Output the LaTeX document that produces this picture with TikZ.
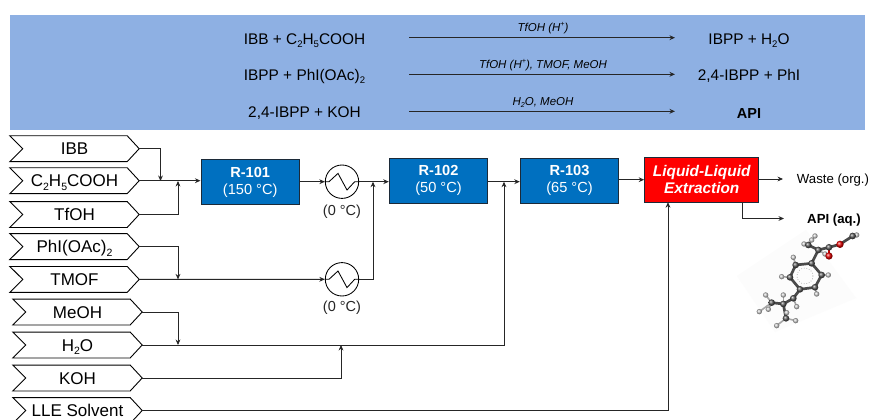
\documentclass[tikz,border=0pt]{standalone}
\usepackage{fontspec}
\setmainfont{Liberation Sans}
\usetikzlibrary{arrows.meta}
\definecolor{banner}{HTML}{8EB0E3}
\definecolor{rblue}{HTML}{0070C0}
\definecolor{edgeline}{HTML}{1C2A38}
\definecolor{atomC}{HTML}{4A4A4A}
\newcommand{\lo}[1]{\raisebox{-0.2em}{\scalebox{0.62}{#1}}}
\newcommand{\hi}[1]{\raisebox{0.42em}{\scalebox{0.62}{#1}}}
\newcommand{\fs}[1]{\fontsize{#1}{#1}\selectfont}
\tikzset{
  x=1pt,y=-1pt,
  feedbox/.style={minimum width=129pt,minimum height=25.5pt,inner sep=0pt,text height=12.2pt,text depth=0pt,font=\fs{17}},
  feededge/.style={draw=black,line width=0.9pt,line join=miter},
  flow/.style={draw=black!85,line width=1pt},
  tip/.style={-{Stealth[length=5.5pt,width=4.8pt]}},
  reactor/.style={draw=edgeline,line width=0.9pt,fill=rblue,text=white,minimum width=98.5pt,minimum height=45pt,inner sep=0pt,align=center,font=\fs{14.6}},
  lle/.style={draw=edgeline,line width=1pt,fill=red,text=white,minimum width=114pt,minimum height=45pt,inner sep=0pt,align=center,font=\fs{15.4}\bfseries\itshape},
  hx/.style={circle,draw=black,line width=0.85pt,minimum size=33.4pt,inner sep=0pt},
  eqn/.style={inner sep=0pt,text height=11pt,text depth=0pt,font=\fs{15.4}},
  cond/.style={inner sep=0pt,text height=8.3pt,text depth=0pt,font=\fs{11.5}\itshape},
  temp/.style={inner sep=0pt,font=\fs{14.5},text=black!85},
  outlabel/.style={inner sep=0pt,text height=9.5pt,text depth=0pt,font=\fs{13.2}},
  bond/.style={draw=atomC,line width=2.7pt,line cap=round},
  hbond/.style={draw=gray!70,line width=1.6pt,line cap=round},
}
% name, center x, center y, text
\newcommand{\feed}[4]{%
  \node[feedbox] (#1) at (#2,#3) {#4};
  \draw[feededge] (#1.north west) -- ([xshift=-12pt]#1.north east) -- (#1.east)
    -- ([xshift=-12pt]#1.south east) -- (#1.south west) -- ([xshift=13pt]#1.west) -- cycle;
}
\newcommand{\zig}[1]{%
  \draw[line width=0.85pt] ([xshift=-16.7pt]#1.center) -- ++(3.7,0) -- ++(9,-8.3) -- ++(9,16.6) -- ++(7.7,-8.3) -- ++(4,0);
}
\newcommand{\atomH}[2]{\shade[ball color=gray!40] (#1,#2) circle (8);}
\newcommand{\atomK}[2]{\shade[ball color=black!65] (#1,#2) circle (10);}
\newcommand{\atomO}[2]{\shade[ball color=red!90!black] (#1,#2) circle (11);}
\begin{document}
\begin{tikzpicture}
\useasboundingbox (0,0) rectangle (871,420);
\clip (0,0) rectangle (871,420);
\fill[white] (0,0) rectangle (871,420);

% banner
\fill[banner] (10,15) rectangle (865,130);
\node[eqn] (l1) at (304.5,39) {IBB + C\lo{2}H\lo{5}COOH};
\node[eqn] (l2) at (304.5,75) {IBPP + PhI(OAc)\lo{2}};
\node[eqn] (l3) at (304.5,112) {2,4-IBPP + KOH};
\node[eqn] (r1) at (749,39) {IBPP + H\lo{2}O};
\node[eqn] (r2) at (749,75.5) {2,4-IBPP + PhI};
\node[eqn,font=\fs{14.5}\bfseries] (r3) at (749,113) {API};
\coordinate (a1s) at (409,37.7); \coordinate (a1e) at (675,37.7);
\coordinate (a2s) at (409,74.3); \coordinate (a2e) at (675,74.3);
\coordinate (a3s) at (409,111.3); \coordinate (a3e) at (675,111.3);
\draw[flow,tip] (a1s) -- (a1e);
\draw[flow,tip] (a2s) -- (a2e);
\draw[flow,tip] (a3s) -- (a3e);
\node[cond] (c1) at (543,27) {TfOH (H\hi{+})};
\node[cond] (c2) at (543,64) {TfOH (H\hi{+}), TMOF, MeOH};
\node[cond] (c3) at (543,101) {H\lo{2}O, MeOH};

% feeds
\feed{ibb}{74.5}{148.7}{IBB}
\feed{acid}{74.5}{180.7}{C\lo{2}H\lo{5}COOH}
\feed{tfoh}{74.5}{214.5}{TfOH}
\feed{phi}{74.5}{246.6}{PhI(OAc)\lo{2}}
\feed{tmof}{74.5}{279.4}{TMOF}
\feed{meoh}{77.5}{312}{MeOH}
\feed{water}{77.5}{345}{H\lo{2}O}
\feed{koh}{77.5}{378}{KOH}
\feed{solv}{77.5}{410.5}{LLE Solvent}

% units
\node[reactor] (r101) at (250.2,182) {\textbf{R-101}\\[2.5pt](150 °C)};
\node[reactor] (r102) at (438.5,180.7) {\textbf{R-102}\\[2.5pt](50 °C)};
\node[reactor] (r103) at (569.5,180.7) {\textbf{R-103}\\[2.5pt](65 °C)};
\node[lle] (ext) at (701.7,179.7) {Liquid-Liquid\\[2pt]Extraction};
\node[hx] (hx1) at (342,181.7) {};
\node[hx] (hx2) at (342,279.3) {};
\zig{hx1}
\zig{hx2}
\node[temp] (t1) at (342,211.5) {(0 °C)};
\node[temp] (t2) at (342,308) {(0 °C)};
\node[outlabel] (waste) at (833,179) {Waste (org.)};
\node[outlabel,font=\fs{13.2}\bfseries] (api) at (834,218.5) {API (aq.)};

% junction coordinates
\coordinate (j1) at (160.5,181);
\coordinate (j2) at (178,181);
\coordinate (j3) at (178,279.4);
\coordinate (j4) at (178,345);
\coordinate (j5) at (341,345);
\coordinate (j6) at (373,181.7);
\coordinate (j7) at (504,181.7);
\coordinate (wasteend) at (783,179);
\coordinate (apiend) at (784,218.5);
\coordinate (apibox) at (742,202);
\coordinate (extin) at (668,202.2);

% connectors
\draw[flow,tip] (ibb.east) -| (j1);
\draw[flow,tip] (acid.east) -- (acid.east -| r101.west);
\draw[flow,tip] (tfoh.east) -| (j2);
\draw[flow,tip] (phi.east) -| (j3);
\draw[flow,tip] (tmof.east) -- (hx2.west);
\draw[flow,tip] (meoh.east) -| (j4);
\draw[flow,tip] (koh.east) -| (j5);
\draw[flow,tip] (r101.east |- hx1.west) -- (hx1.west);
\draw[flow,tip] (hx1.east) -- (hx1.east -| r102.west);
\draw[flow,tip] (hx2.east) -| (j6);
\draw[flow,tip] (r102.east |- j7) -- (j7 -| r103.west);
\draw[flow,tip] (water.east) -| (j7);
\draw[flow,tip] (r103.east |- ext.west) -- (ext.west);
\draw[flow,tip] (solv.east) -| (extin);
\draw[flow,tip] (ext.east |- wasteend) -- (wasteend);
\draw[flow,tip] (apibox) |- (apiend);

% molecule
\fill[black!1] (737,276) -- (806,230) -- (856,298) -- (775,332) -- cycle;
\begin{scope}[shift={(630,150)},x=0.3333pt,y=-0.3333pt]
  \foreach \a/\b/\c/\d in {555/258/535/285,522/282/535/285,545/270/535/285,585/312/565/300,
     490/322/497/345,455/380/480/382,595/375/575/375,560/432/555/412,500/470/490/445,
     460/435/460/462,407/435/425/458,388/485/425/458,415/478/425/458,440/527/468/505,497/512/468/505,470/488/468/505,
     652/270/668/258,680/255/668/258}
    {\draw[hbond] (\a,\b) -- (\c,\d);}
  \foreach \a/\b/\c/\d in {545/340/575/375,575/375/555/412,555/412/510/418,510/418/480/382,480/382/497/345,497/345/545/340,
     545/340/565/300,565/300/535/285,565/300/597/292,597/292/630/283,630/283/668/258,
     510/418/490/445,490/445/460/462,460/462/425/458,460/462/468/505}
    {\draw[bond] (\a,\b) -- (\c,\d);}
  \draw[draw=red!80!black,line width=2.4pt] (597,292) -- (597,318);
  \draw[gray,line width=0.6pt,dotted] (525,378) circle (24);
  \foreach \p/\q in {555/258,522/282,545/270,585/312,490/322,455/380,595/375,560/432,500/470,460/435,407/435,388/485,415/478,440/527,497/512,470/488,680/255}
    {\atomH{\p}{\q}}
  \foreach \p/\q in {545/340,575/375,555/412,510/418,480/382,497/345,565/300,535/285,597/292,668/258,490/445,460/462,425/458,468/505}
    {\atomK{\p}{\q}}
  \atomO{597}{318}
  \atomO{630}{283}
\end{scope}
\end{tikzpicture}
\end{document}
